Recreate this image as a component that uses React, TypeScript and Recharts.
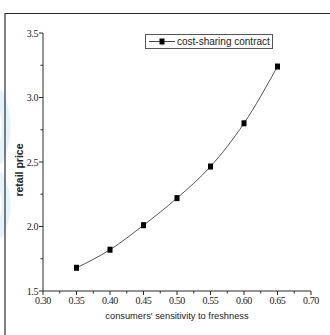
import React from 'react';
import { LineChart, Line, XAxis, YAxis } from 'recharts';

// Sensitivity of consumers to freshness (x) vs. retail price (y)
const sensitivity = [0.35, 0.4, 0.45, 0.5, 0.55, 0.6, 0.65];
const retailPrice = [1.68, 1.82, 2.01, 2.22, 2.465, 2.8, 3.24];

const seriesName = 'cost-sharing contract';
const xTitle = "consumers' sensitivity to freshness";
const yTitle = 'retail price';

const xMajorTicks = [0.3, 0.35, 0.4, 0.45, 0.5, 0.55, 0.6, 0.65, 0.7];
const xMinorTicks = [0.325, 0.375, 0.425, 0.475, 0.525, 0.575, 0.625, 0.675];
const xTickLabels = ['0.30', '0.35', '0.40', '0.45', '0.50', '0.55', '0.60', '0.65', '0.70'];

const yMajorTicks = [1.5, 2.0, 2.5, 3.0, 3.5];
const yMinorTicks = [1.75, 2.25, 2.75, 3.25];
const yTickLabels = ['1.5', '2.0', '2.5', '3.0', '3.5'];

const data = sensitivity.map((s, i) => ({ s, price: retailPrice[i] }));

const AXIS = '#2a2a2a';
const SERIF = '"Liberation Serif", "Times New Roman", serif';
const SANS = '"Liberation Sans", Arial, sans-serif';

const majorIndex = (list: number[], v: number) =>
  list.findIndex((m) => Math.abs(m - v) < 1e-6);

const XTick = (props: any) => {
  const { x, y, payload } = props;
  const idx = majorIndex(xMajorTicks, payload.value);
  const len = idx >= 0 ? 4 : 2.5;
  return (
    <g>
      <line x1={x} x2={x} y1={y} y2={y + len} stroke={AXIS} strokeWidth={1} />
      {idx >= 0 && (
        <text
          x={x}
          y={y + 13}
          textAnchor="middle"
          style={{ fontFamily: SERIF, fontSize: 10, letterSpacing: -0.4 }}
          fill="#222"
        >
          {xTickLabels[idx]}
        </text>
      )}
    </g>
  );
};

const YTick = (props: any) => {
  const { x, y, payload } = props;
  const idx = majorIndex(yMajorTicks, payload.value);
  const len = idx >= 0 ? 4 : 2.5;
  return (
    <g>
      <line x1={x - len} x2={x} y1={y} y2={y} stroke={AXIS} strokeWidth={1} />
      {idx >= 0 && (
        <text
          x={x - 5}
          y={y + 3.5}
          textAnchor="end"
          style={{ fontFamily: SERIF, fontSize: 10, letterSpacing: -0.4 }}
          fill="#222"
        >
          {yTickLabels[idx]}
        </text>
      )}
    </g>
  );
};

const SquareDot = (props: any) => {
  const { cx, cy } = props;
  if (cx == null || cy == null) return null;
  return <rect x={cx - 2.5} y={cy - 3} width={5} height={6} fill="#000" />;
};

const LegendBox = () => (
  <div
    style={{
      position: 'absolute',
      left: 145,
      top: 34,
      width: 126,
      height: 13,
      border: '1px solid #555',
      background: '#fff',
      display: 'flex',
      alignItems: 'center',
      fontFamily: SANS,
      fontSize: 10,
      color: '#222',
      lineHeight: '13px',
    }}
  >
    <svg width={31} height={13} style={{ display: 'block' }}>
      <line x1={3} x2={29} y1={6.5} y2={6.5} stroke="#444" strokeWidth={1} />
      <rect x={13.5} y={3.5} width={5} height={6} fill="#000" />
    </svg>
    <span style={{ whiteSpace: 'nowrap' }}>{seriesName}</span>
  </div>
);

export default function App() {
  const allX = [...xMajorTicks, ...xMinorTicks].sort((a, b) => a - b);
  const allY = [...yMajorTicks, ...yMinorTicks].sort((a, b) => a - b);
  return (
    <div
      style={{
        position: 'absolute',
        left: 0,
        top: 0,
        width: 330,
        height: 335,
        background: '#fff',
        overflow: 'hidden',
      }}
    >
      <svg
        width={330}
        height={335}
        style={{ position: 'absolute', left: 0, top: 0 }}
      >
        <path d="M-2,92 Q14,126 -2,162" stroke="#e3f4fc" strokeWidth={9} fill="none" />
        <path d="M-2,174 Q14,204 -2,236" stroke="#e3f4fc" strokeWidth={9} fill="none" />
        <line x1={5} x2={5} y1={13} y2={335} stroke={AXIS} strokeWidth={1.2} />
        <line x1={5} x2={330} y1={13.5} y2={13.5} stroke={AXIS} strokeWidth={1.2} />
        <text
          x={177}
          y={319}
          textAnchor="middle"
          style={{ fontFamily: SANS, fontSize: 9.3 }}
          fill="#222"
        >
          {xTitle}
        </text>
        <text
          transform="translate(22.5,170) rotate(-90)"
          textAnchor="middle"
          style={{ fontFamily: SANS, fontSize: 10.5, fontWeight: 'bold' }}
          fill="#222"
        >
          {yTitle}
        </text>
      </svg>
      <div style={{ position: 'absolute', left: 0, top: 0 }}>
        <LineChart
          width={330}
          height={335}
          data={data}
          margin={{ top: 33, right: 19, bottom: 0, left: 5 }}
        >
          <XAxis
            dataKey="s"
            type="number"
            domain={[0.3, 0.7]}
            ticks={allX}
            interval={0}
            tickSize={0}
            tickMargin={0}
            tickLine={false}
            tick={<XTick />}
            height={44}
            stroke={AXIS}
          />
          <YAxis
            type="number"
            domain={[1.5, 3.5]}
            ticks={allY}
            interval={0}
            tickSize={0}
            tickMargin={0}
            tickLine={false}
            tick={<YTick />}
            width={38}
            stroke={AXIS}
          />
          <Line
            dataKey="price"
            name={seriesName}
            type="monotone"
            stroke="#555"
            strokeWidth={1}
            dot={<SquareDot />}
            activeDot={false}
            isAnimationActive={false}
          />
        </LineChart>
      </div>
      <LegendBox />
    </div>
  );
}
